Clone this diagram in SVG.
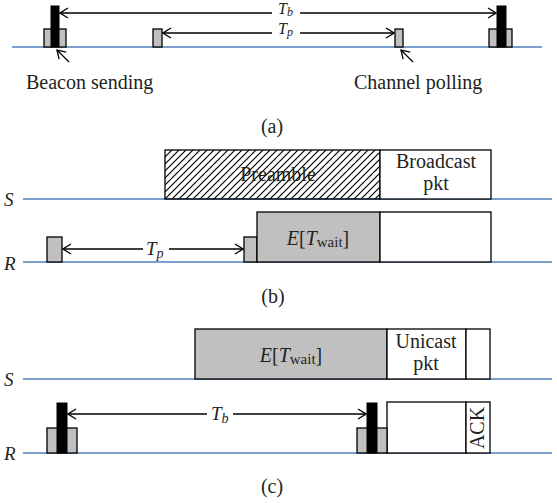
<svg xmlns="http://www.w3.org/2000/svg" width="557" height="503" viewBox="0 0 557 503">
<style>
text{font-family:"Liberation Serif","Times New Roman",serif;fill:#231f20}
.t{font-size:20px}
.m{font-size:19px;font-style:italic}
.lb{font-size:16px;font-style:italic}
.base{stroke:#4f81bd;stroke-width:1.5;fill:none}
.g{fill:#c0c0c0;stroke:#000;stroke-width:1.3}
.k{fill:#000;stroke:#000;stroke-width:1}
.w{fill:#fff;stroke:#000;stroke-width:1.3}
.ar{stroke:#000;stroke-width:1.3;fill:none}
</style>
<defs>
<marker id="ah" viewBox="0 0 10 12" refX="9" refY="6" markerWidth="10" markerHeight="12" markerUnits="userSpaceOnUse" orient="auto-start-reverse">
<path d="M1,1 L9,6 L1,11" fill="none" stroke="#000" stroke-width="1.3"/>
</marker>
<pattern id="hatch" patternUnits="userSpaceOnUse" width="7" height="7">
<path d="M-1,1 L1,-1 M0,7 L7,0 M6,8 L8,6" stroke="#000" stroke-width="1.2"/>
</pattern>
</defs>
<rect width="557" height="503" fill="#fff"/>

<g id="baselines">
<line class="base" x1="12" y1="47" x2="542" y2="47"/>
<line class="base" x1="23" y1="199" x2="552" y2="199"/>
<line class="base" x1="23" y1="262" x2="552" y2="262"/>
<line class="base" x1="23" y1="379" x2="552" y2="379"/>
<line class="base" x1="23" y1="453" x2="552" y2="453"/>
</g>

<!-- panel (a) -->
<g id="a-beacon-left">
<rect class="g" x="44" y="29" width="22" height="18"/>
<rect class="k" x="51" y="6" width="8" height="41"/>
</g>
<g id="a-poll-1"><rect class="g" x="153" y="29" width="9" height="18"/></g>
<g id="a-poll-2"><rect class="g" x="395" y="29" width="8" height="18"/></g>
<g id="a-beacon-right">
<rect class="g" x="489" y="29" width="23" height="18"/>
<rect class="k" x="497" y="6" width="9" height="41"/>
</g>
<g id="a-labels">
<text class="t" x="26" y="89">Beacon sending</text>
<text class="t" x="354" y="89">Channel polling</text>
<text class="t" x="272" y="133" text-anchor="middle">(a)</text>
<text class="lb" x="278" y="14">T<tspan font-size="12" dy="2">b</tspan></text>
<text class="lb" x="278" y="34">T<tspan font-size="12" dy="2">p</tspan></text>
</g>

<!-- panel (b) -->
<g id="b-preamble">
<rect x="165" y="150" width="215" height="49" fill="url(#hatch)" stroke="#000" stroke-width="1.3"/>
<text class="t" x="278" y="181" text-anchor="middle">Preamble</text>
</g>
<g id="b-broadcast">
<rect class="w" x="380" y="150" width="111" height="49"/>
<text class="t" x="436" y="168" text-anchor="middle">Broadcast</text>
<text class="t" x="436" y="190" text-anchor="middle">pkt</text>
</g>
<g id="b-poll-1"><rect class="g" x="47" y="237" width="15" height="25"/></g>
<g id="b-poll-2"><rect class="g" x="244" y="237" width="13" height="25"/></g>
<g id="b-wait">
<rect class="g" x="257" y="212" width="123" height="50"/>
<text class="t" x="318" y="245" text-anchor="middle"><tspan font-style="italic">E</tspan>[<tspan font-style="italic">T</tspan><tspan font-size="15" dy="2">wait</tspan><tspan dy="-2">]</tspan></text>
</g>
<g id="b-rx"><rect class="w" x="380" y="212" width="111" height="50"/></g>
<g id="b-labels">
<text class="m" x="4" y="206">S</text>
<text class="m" x="4" y="270">R</text>
<text class="m" x="146" y="255">T<tspan font-size="14" dy="3">p</tspan></text>
<text class="t" x="273" y="303" text-anchor="middle">(b)</text>
</g>

<!-- panel (c) -->
<g id="c-wait">
<rect class="g" x="195" y="329" width="192" height="50"/>
<text class="t" x="291" y="362" text-anchor="middle"><tspan font-style="italic">E</tspan>[<tspan font-style="italic">T</tspan><tspan font-size="15" dy="2">wait</tspan><tspan dy="-2">]</tspan></text>
</g>
<g id="c-unicast">
<rect class="w" x="387" y="329" width="79" height="50"/>
<text class="t" x="426" y="348" text-anchor="middle">Unicast</text>
<text class="t" x="426" y="370" text-anchor="middle">pkt</text>
</g>
<g id="c-ackslot"><rect class="w" x="466" y="329" width="24" height="50"/></g>
<g id="c-beacon-left">
<rect class="g" x="47" y="428" width="30" height="25"/>
<rect class="k" x="57" y="403" width="10" height="50"/>
</g>
<g id="c-rx"><rect class="w" x="387" y="402" width="79" height="51"/></g>
<g id="c-beacon-right">
<rect class="g" x="357" y="428" width="30" height="25"/>
<rect class="k" x="367" y="403" width="10" height="50"/>
</g>
<g id="c-ack">
<rect class="w" x="466" y="402" width="24" height="51"/>
<text class="t" x="0" y="0" font-size="18" text-anchor="middle" transform="translate(484,428) rotate(-90)">ACK</text>
</g>
<g id="c-labels">
<text class="m" x="4" y="386">S</text>
<text class="m" x="4" y="460">R</text>
<text class="m" x="211" y="420">T<tspan font-size="14" dy="3">b</tspan></text>
<text class="t" x="272" y="493" text-anchor="middle">(c)</text>
</g>

<g id="connectors">
<line class="ar" x1="272" y1="13" x2="60" y2="13" marker-end="url(#ah)"/>
<line class="ar" x1="300" y1="13" x2="496" y2="13" marker-end="url(#ah)"/>
<line class="ar" x1="272" y1="33" x2="163" y2="33" marker-end="url(#ah)"/>
<line class="ar" x1="300" y1="33" x2="394" y2="33" marker-end="url(#ah)"/>
<line class="ar" x1="69" y1="62" x2="57" y2="50" marker-end="url(#ah)"/>
<line class="ar" x1="413" y1="62" x2="401" y2="50" marker-end="url(#ah)"/>
<line class="ar" x1="143" y1="249" x2="63" y2="249" marker-end="url(#ah)"/>
<line class="ar" x1="169" y1="249" x2="243" y2="249" marker-end="url(#ah)"/>
<line class="ar" x1="207" y1="414" x2="68" y2="414" marker-end="url(#ah)"/>
<line class="ar" x1="233" y1="414" x2="366" y2="414" marker-end="url(#ah)"/>
</g>
</svg>
